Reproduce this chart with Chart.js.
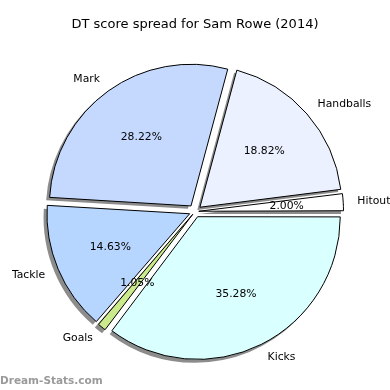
<!DOCTYPE html>
<html>
<head>
<meta charset="utf-8">
<script src="https://cdn.jsdelivr.net/npm/chart.js@4"></script>
<style>
  html, body { margin: 0; padding: 0; background: #fff; }
  #wrap { width: 390px; height: 390px; }
</style>
</head>
<body>
<div id="wrap"><canvas id="pie" width="390" height="390"></canvas></div>
<script>
// ============================= chart data (clockwise from 3 o'clock)

const categories = ['Kicks', 'Goals', 'Tackle', 'Mark', 'Handballs', 'Hitout']
const shares = [35.28, 1.05, 14.63, 28.22, 18.82, 2.00]
const colors = ['#d9ffff', '#cbea8c', '#b6d5ff', '#c5d9ff', '#ebf1ff', '#ffffff']

const EXPLODE = 7     // px each wedge is pushed out
const RADIUS = 141.5
const total = shares.reduce((a, b) => a + b, 0)

// chart.js moves an arc by offset/4*(1+fix), so undo that to get a flat explode
const arcOffset = (ctx) => {
    const circ = ctx.raw / total * Math.PI * 2
    const fix = 1 - Math.sin(Math.min(Math.PI, circ))
    return EXPLODE * 4 / (1 + fix)
}

// ============================= shadow under the wedges

const shadowPlugin = {
    id: 'shadow',
    beforeDatasetsDraw(chart) {
        const ctx = chart.ctx
        ctx.save()
        ctx.fillStyle = 'rgba(0,0,0,0.45)'
        chart.getDatasetMeta(0).data.forEach(arc => {
            const mid = (arc.startAngle + arc.endAngle) / 2
            const cx = arc.x + Math.cos(mid) * EXPLODE - 3
            const cy = arc.y + Math.sin(mid) * EXPLODE + 3
            ctx.beginPath()
            ctx.moveTo(cx, cy)
            ctx.arc(cx, cy, arc.outerRadius + 0.5, arc.startAngle, arc.endAngle)
            ctx.closePath()
            ctx.fill()
        })
        ctx.restore()
    }
}

// ============================= labels and percentages

const labelPlugin = {
    id: 'pieLabels',
    afterDatasetsDraw(chart) {
        const ctx = chart.ctx
        ctx.save()
        ctx.font = '10.8px "DejaVu Sans"'
        ctx.fillStyle = '#000'
        ctx.textBaseline = 'middle'
        chart.getDatasetMeta(0).data.forEach((arc, i) => {
            const mid = (arc.startAngle + arc.endAngle) / 2
            const cx = arc.x + Math.cos(mid) * EXPLODE
            const cy = arc.y + Math.sin(mid) * EXPLODE
            const r = arc.outerRadius

            const lx = cx + Math.cos(mid) * r * 1.1
            const ly = cy + Math.sin(mid) * r * 1.1
            ctx.textAlign = lx > arc.x ? 'left' : 'right'
            ctx.fillText(categories[i], lx, ly)

            ctx.textAlign = 'center'
            ctx.fillText(shares[i].toFixed(2) + '%', cx + Math.cos(mid) * r * 0.6, cy + Math.sin(mid) * r * 0.6)
        })
        ctx.restore()
    },
    afterDraw(chart) {
        const ctx = chart.ctx
        ctx.save()
        ctx.font = 'bold 10.5px "DejaVu Sans"'
        ctx.fillStyle = '#9a9a9a'
        ctx.textAlign = 'left'
        ctx.textBaseline = 'alphabetic'
        ctx.fillText('Dream-Stats.com', 0, 384)
        ctx.restore()
    }
}

// ============================= the chart

let pie = new Chart(document.getElementById('pie'), {
    type: 'pie',
    data: {
        labels: categories,
        datasets: [{
            data: shares,
            backgroundColor: colors,
            borderColor: '#000',
            borderWidth: 1,
            offset: arcOffset,
            hoverOffset: 0
        }]
    },
    options: {
        responsive: false,
        animation: false,
        events: [],
        rotation: 90,
        radius: RADIUS,
        layout: { padding: { left: 0, right: 0, top: 0, bottom: 9.6 } },
        plugins: {
            legend: { display: false },
            tooltip: { enabled: false },
            title: {
                display: true,
                text: 'DT score spread for Sam Rowe (2014)',
                color: '#000',
                font: { family: 'DejaVu Sans', size: 13, weight: 'normal' },
                padding: { top: 17, bottom: 10 }
            }
        }
    },
    plugins: [shadowPlugin, labelPlugin]
})
</script>
</body>
</html>
